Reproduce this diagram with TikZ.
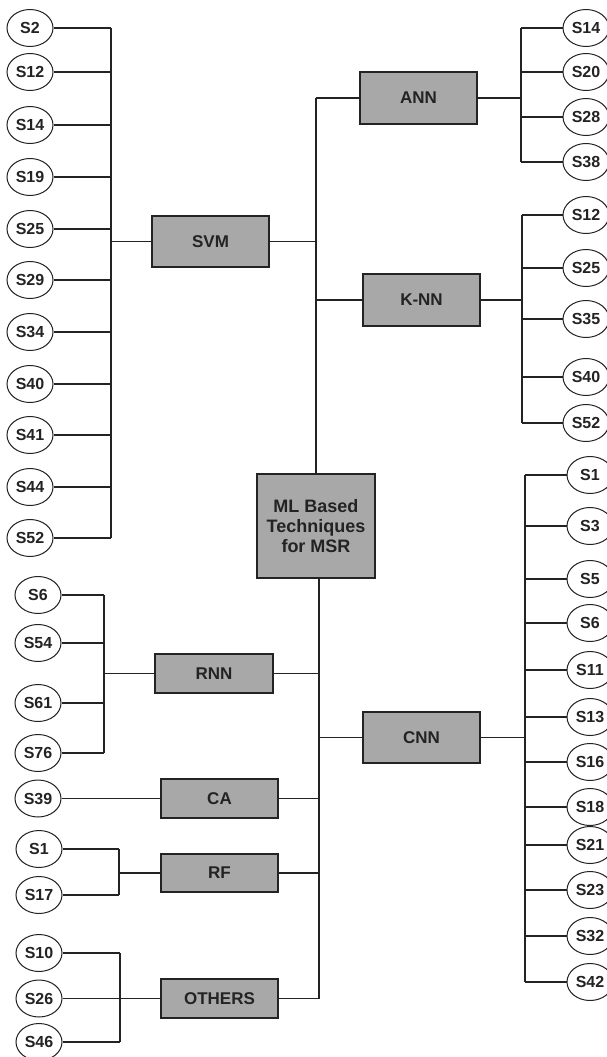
\documentclass[tikz,border=0pt]{standalone}
\usepackage{fontspec}
\setmainfont{Liberation Sans}
\usetikzlibrary{shapes.geometric}
\definecolor{boxgray}{RGB}{168,168,168}
\definecolor{ink}{RGB}{35,35,35}
\begin{document}
\begin{tikzpicture}[x=1pt,y=-1pt,
  tbox/.style={draw=ink,line width=1.4pt,fill=boxgray,inner sep=0pt,text=ink,font=\fontsize{17}{20}\selectfont\bfseries,align=center},
  sref/.style={ellipse,draw=ink,line width=1pt,fill=white,minimum width=46pt,minimum height=37pt,inner sep=0pt,text=ink,font=\fontsize{16}{18}\selectfont\bfseries},
  wire/.style={draw=ink,line width=1.3pt}]
\useasboundingbox (0,0) rectangle (606,1057);
\fill[white] (0,0) rectangle (606,1057);
% main boxes
\node[tbox,minimum width=118pt,minimum height=104pt,font=\fontsize{18}{20}\selectfont\bfseries] (main) at (316,526) {ML Based\\Techniques\\for MSR};
\node[tbox,minimum width=117pt,minimum height=51pt] (svm) at (210.5,241.5) {SVM};
\node[tbox,minimum width=117pt,minimum height=52pt] (ann) at (418.5,98) {ANN};
\node[tbox,minimum width=117pt,minimum height=52pt] (knn) at (421.5,300) {K-NN};
\node[tbox,minimum width=117pt,minimum height=51pt] (cnn) at (421.5,737.5) {CNN};
\node[tbox,minimum width=118pt,minimum height=39pt] (rnn) at (214,673.5) {RNN};
\node[tbox,minimum width=117pt,minimum height=39pt] (ca) at (219.5,798.5) {CA};
\node[tbox,minimum width=117pt,minimum height=38pt] (rf) at (219.5,873) {RF};
\node[tbox,minimum width=117pt,minimum height=39pt] (oth) at (219.5,998.5) {OTHERS};
% trunk coordinates
\coordinate (trunktop) at (316,98);
\coordinate (trunkbot) at (319,998.5);
\coordinate (svmbus) at (111,241.5);
\coordinate (annbus) at (521,98);
\coordinate (knnbus) at (522,300);
\coordinate (cnnbus) at (525,737.5);
\coordinate (rnnbus) at (104,673.5);
\coordinate (rfbus) at (119,873);
\coordinate (othbus) at (120,998.5);
% trunk
\draw[wire] (trunktop) -- (main.north);
\draw[wire] (main.south -| trunkbot) -- (trunkbot);
\draw[wire] (trunktop) -- (ann.west);
\draw[wire] (svm.east) -- (svm.east -| trunktop);
\draw[wire] (knn.west -| trunktop) -- (knn.west);
\draw[wire] (cnn.west -| trunkbot) -- (cnn.west);
\draw[wire] (rnn.east) -- (rnn.east -| trunkbot);
\draw[wire] (ca.east) -- (ca.east -| trunkbot);
\draw[wire] (rf.east) -- (rf.east -| trunkbot);
\draw[wire] (oth.east) -- (trunkbot);
% SVM group
\foreach \n/\y in {2/28,12/72,14/125,19/177,25/229,29/280,34/332,40/384,41/435,44/487,52/538}{
  \node[sref] (svm\n) at (30,\y) {S\n};
  \draw[wire] (svm\n.east) -- (svm\n.east -| svmbus);
}
\draw[wire] (svm2.east -| svmbus) -- (svm52.east -| svmbus);
\draw[wire] (svm.west) -- (svmbus);
% ANN group
\foreach \n/\y in {14/28,20/72,28/117,38/162}{
  \node[sref] (ann\n) at (586,\y) {S\n};
  \draw[wire] (ann\n.west) -- (ann\n.west -| annbus);
}
\draw[wire] (ann14.west -| annbus) -- (ann38.west -| annbus);
\draw[wire] (ann.east) -- (annbus);
% KNN group
\foreach \n/\y in {12/215,25/268,35/319,40/377,52/423}{
  \node[sref] (knn\n) at (586,\y) {S\n};
  \draw[wire] (knn\n.west) -- (knn\n.west -| knnbus);
}
\draw[wire] (knn12.west -| knnbus) -- (knn52.west -| knnbus);
\draw[wire] (knn.east) -- (knnbus);
% CNN group
\foreach \n/\y in {1/475,3/526,5/579,6/623,11/670,13/717,16/762,18/807,21/845,23/890,32/936,42/982}{
  \node[sref] (cnn\n) at (590,\y) {S\n};
  \draw[wire] (cnn\n.west) -- (cnn\n.west -| cnnbus);
}
\draw[wire] (cnn1.west -| cnnbus) -- (cnn42.west -| cnnbus);
\draw[wire] (cnn.east) -- (cnnbus);
% RNN group
\foreach \n/\y in {6/595,54/643,61/703,76/753}{
  \node[sref] (rnn\n) at (38,\y) {S\n};
  \draw[wire] (rnn\n.east) -- (rnn\n.east -| rnnbus);
}
\draw[wire] (rnn6.east -| rnnbus) -- (rnn76.east -| rnnbus);
\draw[wire] (rnn.west) -- (rnnbus);
% CA
\node[sref] (ca39) at (38,798.5) {S39};
\draw[wire] (ca39.east) -- (ca.west);
% RF group
\foreach \n/\y in {1/849,17/895}{
  \node[sref] (rf\n) at (39,\y) {S\n};
  \draw[wire] (rf\n.east) -- (rf\n.east -| rfbus);
}
\draw[wire] (rf1.east -| rfbus) -- (rf17.east -| rfbus);
\draw[wire] (rf.west) -- (rfbus);
% OTHERS group
\foreach \n/\y in {10/953,26/998.5,46/1042}{
  \node[sref] (oth\n) at (39,\y) {S\n};
}
\draw[wire] (oth10.east) -- (oth10.east -| othbus);
\draw[wire] (oth46.east) -- (oth46.east -| othbus);
\draw[wire] (oth10.east -| othbus) -- (oth46.east -| othbus);
\draw[wire] (oth26.east) -- (oth.west);
\end{tikzpicture}
\end{document}
